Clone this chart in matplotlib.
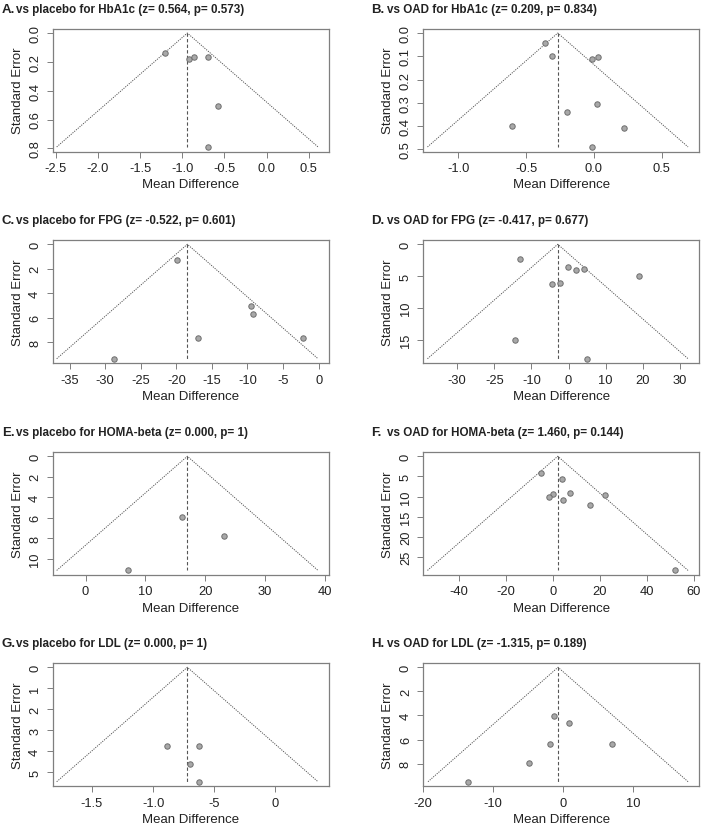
import matplotlib
matplotlib.use("Agg")
import matplotlib.pyplot as plt
import numpy as np

plt.rcParams['font.family'] = ['Liberation Sans', 'DejaVu Sans']
plt.rcParams['axes.unicode_minus'] = False

# ---------------- data ----------------
letters = ["A.", "B.", "C.", "D.", "E.", "F.", "G.", "H."]
titles = [
    "vs placebo for HbA1c (z= 0.564, p= 0.573)",
    "vs OAD for HbA1c (z= 0.209, p= 0.834)",
    "vs placebo for FPG (z= -0.522, p= 0.601)",
    "vs OAD for FPG (z= -0.417, p= 0.677)",
    "vs placebo for HOMA-beta (z= 0.000, p= 1)",
    "vs OAD for HOMA-beta (z= 1.460, p= 0.144)",
    "vs placebo for LDL (z= 0.000, p= 1)",
    "vs OAD for LDL (z= -1.315, p= 0.189)",
]

A_md = [-1.20, -0.92, -0.86, -0.69, -0.58, -0.69]
A_se = [0.136, 0.182, 0.168, 0.168, 0.506, 0.79]
A_est = -0.94

B_md = [-0.36, -0.31, -0.017, 0.033, 0.023, -0.197, -0.607, 0.22, -0.012]
B_se = [0.041, 0.099, 0.11, 0.101, 0.304, 0.341, 0.401, 0.41, 0.49]
B_est = -0.266

C_md = [-19.89, -9.5, -9.26, -16.89, -2.24, -28.82]
C_se = [1.28, 5.08, 5.74, 7.68, 7.68, 9.37]
C_est = -18.45

D_md = [-12.99, -0.18, 2.08, 4.07, 18.9, -4.34, -2.26, -14.3, 5.0]
D_se = [2.33, 3.57, 4.09, 3.88, 5.02, 6.26, 6.05, 15.0, 17.9]
D_est = -2.9

E_md = [16.14, 23.1, 7.08]
E_se = [5.88, 7.82, 11.14]
E_est = 17.0

F_md = [-5.29, 3.71, 0.0, -1.71, 7.29, 4.43, 15.57, 22.29, 52.1]
F_se = [4.1, 5.66, 9.26, 10.08, 9.1, 10.9, 12.13, 9.5, 28.3]
F_est = 2.0

G_md = [-8.84, -6.28, -6.97, -6.28]
G_se = [3.75, 3.75, 4.61, 5.45]
G_est = -7.2

H_md = [-1.33, 0.86, -1.9, 7.05, -4.9, -13.67]
H_se = [4.04, 4.6, 6.34, 6.34, 7.92, 9.5]
H_est = -0.71

A_xticks = [-2.5, -2.0, -1.5, -1.0, -0.5, 0.0, 0.5]
A_xlabels = ["-2.5", "-2.0", "-1.5", "-1.0", "-0.5", "0.0", "0.5"]
A_yticks = [0.0, 0.2, 0.4, 0.6, 0.8]
A_ylabels = ["0.0", "0.2", "0.4", "0.6", "0.8"]

B_xticks = [-1.0, -0.5, 0.0, 0.5]
B_xlabels = ["-1.0", "-0.5", "0.0", "0.5"]
B_yticks = [0.0, 0.1, 0.2, 0.3, 0.4, 0.5]
B_ylabels = ["0.0", "0.1", "0.2", "0.3", "0.4", "0.5"]

C_xticks = [-35, -30, -25, -20, -15, -10, -5, 0]
C_xlabels = ["-35", "-30", "-25", "-20", "-15", "-10", "-5", "0"]
C_yticks = [0, 2, 4, 6, 8]
C_ylabels = ["0", "2", "4", "6", "8"]

D_xticks = [-30, -20, -10, 0, 10, 20, 30]
D_xlabels = ["-30", "-25", "-10", "0", "10", "20", "30"]
D_yticks = [0, 5, 10, 15]
D_ylabels = ["0", "5", "10", "15"]

E_xticks = [0, 10, 20, 30, 40]
E_xlabels = ["0", "10", "20", "30", "40"]
E_yticks = [0, 2, 4, 6, 8, 10]
E_ylabels = ["0", "2", "4", "6", "8", "10"]

F_xticks = [-40, -20, 0, 20, 40, 60]
F_xlabels = ["-40", "-20", "0", "20", "40", "60"]
F_yticks = [0, 5, 10, 15, 20, 25]
F_ylabels = ["0", "5", "10", "15", "20", "25"]

G_xticks = [-15, -10, -5, 0]
G_xlabels = ["-1.5", "-1.0", "-5", "0"]
G_yticks = [0, 1, 2, 3, 4, 5]
G_ylabels = ["0", "1", "2", "3", "4", "5"]

H_xticks = [-20, -10, 0, 10]
H_xlabels = ["-20", "-10", "0", "10"]
H_yticks = [0, 2, 4, 6, 8]
H_ylabels = ["0", "2", "4", "6", "8"]

panels = [
    (A_md, A_se, A_est, A_xticks, A_xlabels, A_yticks, A_ylabels),
    (B_md, B_se, B_est, B_xticks, B_xlabels, B_yticks, B_ylabels),
    (C_md, C_se, C_est, C_xticks, C_xlabels, C_yticks, C_ylabels),
    (D_md, D_se, D_est, D_xticks, D_xlabels, D_yticks, D_ylabels),
    (E_md, E_se, E_est, E_xticks, E_xlabels, E_yticks, E_ylabels),
    (F_md, F_se, F_est, F_xticks, F_xlabels, F_yticks, F_ylabels),
    (G_md, G_se, G_est, G_xticks, G_xlabels, G_yticks, G_ylabels),
    (H_md, H_se, H_est, H_xticks, H_xlabels, H_yticks, H_ylabels),
]

# ---------------- layout (pixels) ----------------
W, H = 708, 829
fig = plt.figure(figsize=(W / 100, H / 100), dpi=100)

col_x = [(52.5, 329.0), (423.3, 699.0)]
row_y = [(29.5, 152.5), (240.7, 364.3), (452.7, 576.0), (663.7, 787.3)]

frame_col = "#7f7f7f"
text_col = "#222222"

for i, (md, se, est, xt, xl, yt, yl) in enumerate(panels):
    r, c = divmod(i, 2)
    x0, x1 = col_x[c]
    y0, y1 = row_y[r]
    ax = fig.add_axes([x0 / W, 1 - y1 / H, (x1 - x0) / W, (y1 - y0) / H])

    md = np.asarray(md, float)
    se = np.asarray(se, float)
    smax = se.max()
    lo = est - 1.96 * smax
    hi = est + 1.96 * smax

    ax.plot([lo, est, hi], [smax, 0, smax], color="#555555", lw=0.7,
            linestyle=(0, (1.2, 1.2)))
    ax.plot([est, est], [0, smax], color="#555555", lw=0.8,
            linestyle=(0, (3, 2)))
    ax.plot(md, se, linestyle="none", marker="o", markersize=3.9,
            markerfacecolor="#a8a8a8", markeredgecolor="#6e6e6e",
            markeredgewidth=0.7)

    rng = hi - lo
    ax.set_xlim(lo - 0.016 * rng, hi + 0.042 * rng)
    ax.set_ylim(smax * 1.04, -0.04 * smax)

    ax.set_xticks(xt)
    ax.set_xticklabels(xl)
    ax.set_yticks(yt)
    ax.set_yticklabels(yl, rotation=90, va="center")
    ax.tick_params(axis="both", length=4.2, width=0.7, color=frame_col,
                   labelsize=9.3, labelcolor=text_col)
    ax.tick_params(axis="x", pad=3.3)
    ax.tick_params(axis="y", pad=4.0)
    for sp in ax.spines.values():
        sp.set_color(frame_col)
        sp.set_linewidth(0.9)

    ax.set_xlabel("Mean Difference", fontsize=9.5, color=text_col, labelpad=3)
    ax.set_ylabel("Standard Error", fontsize=9.5, color=text_col, labelpad=4)

    # titles
    ty = y0 - 19.5
    lx = 2 if c == 0 else 371
    bx = 16.5 if c == 0 else 387
    fig.text(lx / W, 1 - ty / H, letters[i], fontsize=9.5, fontweight="bold",
             color=text_col, va="center", ha="left")
    fig.text(bx / W, 1 - ty / H, titles[i], fontsize=8.4, fontweight="bold",
             color=text_col, va="center", ha="left")

fig.savefig("out.png", dpi=100, facecolor="white")
